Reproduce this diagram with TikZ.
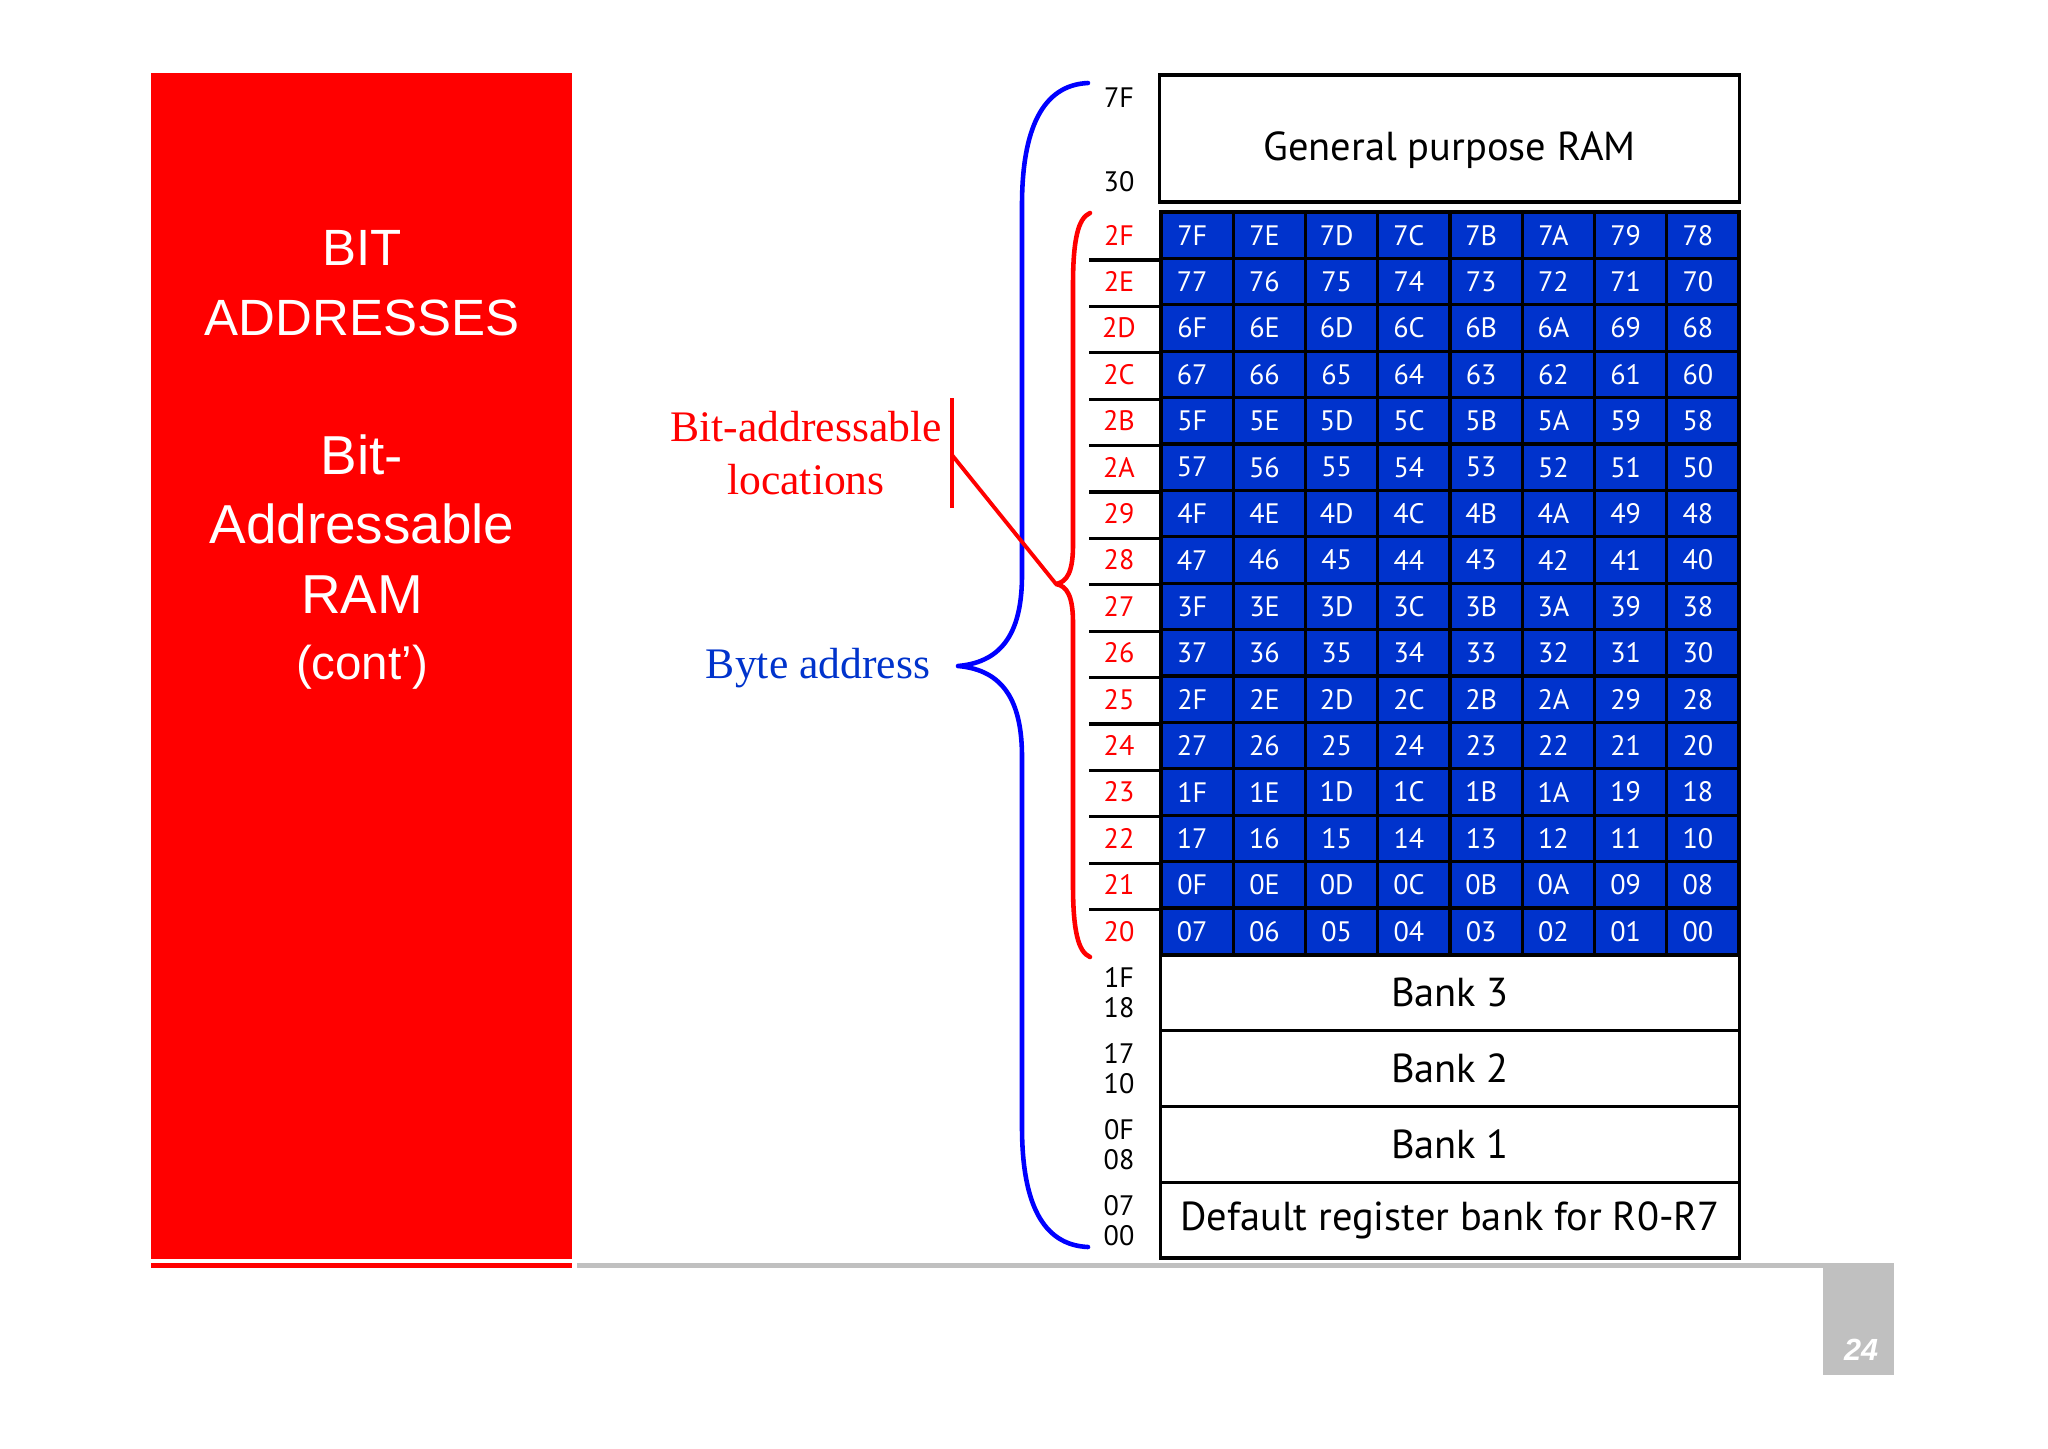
\documentclass[tikz,border=0pt]{standalone}
\usepackage{fontspec}
\setmainfont{Liberation Serif}
\newfontfamily\panelfont{Liberation Sans}
\newfontfamily\memfont{PT Sans}
\definecolor{cellblue}{RGB}{0,51,204}
\definecolor{bracered}{RGB}{255,0,0}
\definecolor{braceblue}{RGB}{0,0,255}
\definecolor{footgray}{RGB}{192,192,192}

\tikzset{
  cell/.style={draw=black, line width=0.9pt, fill=cellblue, text=white,
    minimum width=0.7225cm, minimum height=0.464cm, inner sep=0pt,
    execute at begin node={\hspace*{-2.8pt}},
    font=\memfont\fontsize{8}{9}\selectfont},
  membox/.style={draw=black, line width=0.9pt, fill=white, inner sep=0pt,
    minimum width=5.79cm, font=\memfont\fontsize{11.5}{13}\selectfont},
  addr/.style={inner sep=0pt, align=center, font=\memfont\fontsize{8}{8.6}\selectfont},
  brace/.style={line width=1.3pt, line cap=round, line join=round},
  note/.style={inner sep=0pt, align=center, font=\fontsize{12.4}{15}\selectfont},
}

\begin{document}
\begin{tikzpicture}[x=0.01cm, y=-0.01cm]
\useasboundingbox (0,0) rectangle (2048,1448);

% slide frame
\fill[red] (151,73) rectangle (572,1259);
\fill[red] (151,1263) rectangle (572,1268);
\fill[footgray] (577,1263) rectangle (1894,1268);
\fill[footgray] (1823,1263) rectangle (1894,1375);
\node[text=white, inner sep=0pt, font=\panelfont\bfseries\itshape\fontsize{8.7}{10}\selectfont]
  (page) at (1861,1350) {24};
\node[text=white, inner sep=0pt, align=center, font=\panelfont\fontsize{14.5}{19.8}\selectfont]
  (title) at (362,283) {BIT\\ADDRESSES};
\node[text=white, inner sep=0pt, align=center, font=\panelfont\fontsize{15.6}{19.8}\selectfont]
  (subtitle) at (362,562) {Bit-\\Addressable\\RAM\\[-1pt]{\fontsize{13.5}{14}\selectfont(cont’)}};

% memory map
\node[membox, minimum height=1.27cm] (gp) at (1449.5,138.5) {};
\node[inner sep=0pt, font=\memfont\fontsize{11.5}{13}\selectfont] (gptext) at (1449.5,150) {General purpose RAM};
\node[addr] (a7F) at (1119,98) {7F};
\node[addr] (a30) at (1119,182) {30};

\pgfmathsetbasenumberlength{2}
\foreach \r in {0,...,15}{
  \pgfmathtruncatemacro{\byte}{47-\r}
  \pgfmathdectoBase\bytehex{\byte}{16}
  \node[addr, text=red] (r\r) at (1119,{235.2+46.4*\r}) {\bytehex};
  \foreach \c in {0,...,7}{
    \pgfmathtruncatemacro{\bit}{(\byte-32)*8+7-\c}
    \pgfmathdectoBase\bithex{\bit}{16}
    \node[cell] (c\r-\c) at ({1197.125+72.25*\c},{235.2+46.4*\r}) {\bithex};
  }
}
\foreach \r in {0,...,14}
  \draw[line width=0.9pt] ([xshift=-0.7cm]c\r-0.south west) -- (c\r-0.south west);

\node[membox, minimum height=0.7575cm] (bank3) at (1450,992.9) {Bank 3};
\node[membox, minimum height=0.7575cm] (bank2) at (1450,1068.6) {Bank 2};
\node[membox, minimum height=0.7575cm] (bank1) at (1450,1144.4) {Bank 1};
\node[membox, minimum height=0.7575cm] (bank0) at (1450,1220.1) {Default register bank for R0-R7};
\node[addr] (a18) at (1119,993) {1F\\18};
\node[addr] (a10) at (1119,1069) {17\\10};
\node[addr] (a08) at (1119,1145) {0F\\08};
\node[addr] (a00) at (1119,1221) {07\\00};

% braces
\coordinate (btop) at (1088,83);
\coordinate (btip) at (958,666);
\coordinate (bbot) at (1088,1247);
\draw[brace, braceblue] (btop) .. controls (1042,85) and (1022,130) .. (1022,205)
  -- (1022,575) .. controls (1022,630) and (1004,662) .. (btip)
  .. controls (1004,670) and (1022,702) .. (1022,757)
  -- (1022,1127) .. controls (1022,1202) and (1042,1245) .. (bbot);
\coordinate (rtop) at (1090,213);
\coordinate (rtip) at (1056,584);
\coordinate (rbot) at (1090,957);
\draw[brace, bracered] (rtop) .. controls (1078,218) and (1073,240) .. (1073,285)
  -- (1073,545) .. controls (1073,572) and (1067,582) .. (rtip)
  .. controls (1067,586) and (1073,596) .. (1073,623)
  -- (1073,885) .. controls (1073,930) and (1078,952) .. (rbot);

% labels
\node[note, text=red] (bitlbl) at (806,453) {Bit-addressable\\locations};
\node[note, text=cellblue] (bytelbl) at (818,668) {Byte address};
\coordinate (bartop) at (952,398);
\coordinate (barbot) at (952,508);
\coordinate (barmid) at (952,455);
\draw[line width=1.1pt, red] (bartop) -- (barbot);
\draw[line width=1.1pt, red] (barmid) -- (rtip);
\end{tikzpicture}
\end{document}
